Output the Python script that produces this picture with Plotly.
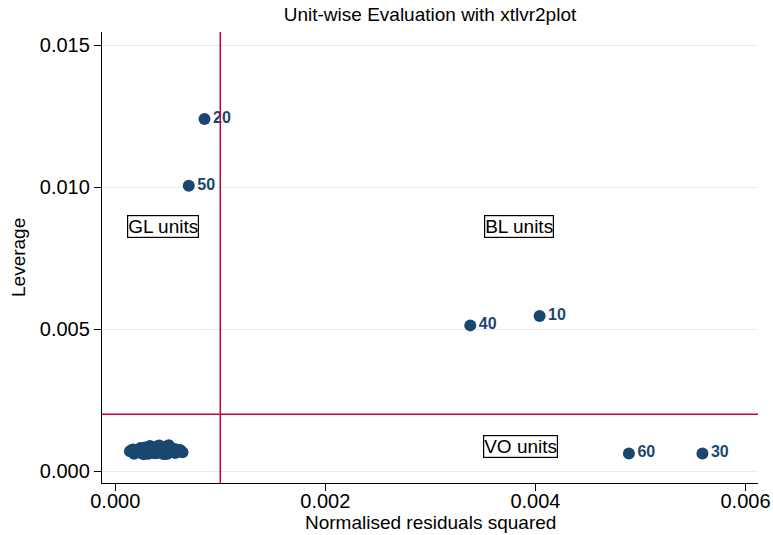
import plotly.graph_objects as go

# Unit identifiers 1..60
units = list(range(1, 61))

# Normalised residuals squared (x 1e-3), one value per unit
resid_sq_e3 = [
    0.21, 0.35, 0.28, 0.47, 0.16, 0.39, 0.52, 0.31, 0.44, 4.04,
    0.25, 0.41, 0.58, 0.19, 0.33, 0.49, 0.62, 0.27, 0.37, 0.85,
    0.14, 0.30, 0.45, 0.55, 0.23, 0.40, 0.51, 0.36, 0.60, 5.59,
    0.29, 0.43, 0.18, 0.53, 0.34, 0.64, 0.26, 0.47, 0.39, 3.38,
    0.22, 0.32, 0.56, 0.42, 0.17, 0.50, 0.38, 0.61, 0.27, 0.70,
    0.31, 0.46, 0.20, 0.57, 0.35, 0.43, 0.24, 0.54, 0.40, 4.89,
]

# Leverage (x 1e-3), one value per unit
leverage_e3 = [
    0.72, 0.66, 0.78, 0.63, 0.74, 0.85, 0.69, 0.61, 0.80, 5.46,
    0.64, 0.71, 0.76, 0.68, 0.88, 0.60, 0.73, 0.82, 0.67, 12.40,
    0.70, 0.75, 0.62, 0.79, 0.66, 0.72, 0.91, 0.64, 0.69, 0.62,
    0.83, 0.68, 0.61, 0.73, 0.70, 0.66, 0.77, 0.86, 0.63, 5.13,
    0.67, 0.62, 0.70, 0.90, 0.76, 0.65, 0.71, 0.74, 0.59, 10.05,
    0.79, 0.60, 0.65, 0.64, 0.73, 0.78, 0.81, 0.68, 0.87, 0.62,
]

# Reference cut-offs
resid_cut = 0.001
lev_cut = 0.002

# Quadrant labels: text, x, y
quad_text = ["GL units", "BL units", "VO units"]
quad_x = [0.00045, 0.00384, 0.00386]
quad_y = [0.0086, 0.0086, 0.00088]

x_ticks = [0.0, 0.002, 0.004, 0.006]
y_ticks = [0.0, 0.005, 0.010, 0.015]

x_vals = [v / 1000 for v in resid_sq_e3]
y_vals = [v / 1000 for v in leverage_e3]
# only units beyond a cut-off carry a visible label
labels = [str(u) if (x > resid_cut or y > lev_cut) else ""
          for u, x, y in zip(units, x_vals, y_vals)]

NAVY = "#1a476f"
RED = "#c10534"
FONT = "Liberation Sans, Arial, sans-serif"
W, H = 773, 535
ML, MR, MT, MB = 102, 15, 32, 52

fig = go.Figure()
fig.add_trace(go.Scatter(
    x=x_vals, y=y_vals, mode="markers+text", text=labels,
    textposition="middle right",
    textfont=dict(family=FONT, size=16, color=NAVY, weight="bold"),
    marker=dict(size=12, color=NAVY, line=dict(width=0)),
    showlegend=False, cliponaxis=False,
))

fig.add_shape(type="line", xref="x", yref="paper", x0=resid_cut, x1=resid_cut,
              y0=0, y1=1, line=dict(color=RED, width=1.5))
fig.add_shape(type="line", xref="paper", yref="y", x0=0, x1=1,
              y0=lev_cut, y1=lev_cut, line=dict(color=RED, width=1.5))

for t, qx, qy in zip(quad_text, quad_x, quad_y):
    fig.add_annotation(x=qx, y=qy, text=t, showarrow=False,
                       font=dict(family=FONT, size=19, color="black"),
                       bordercolor="black", borderwidth=1.2, borderpad=0,
                       bgcolor="white")

# axis titles placed in pixel terms below / left of the plot area
plot_h = H - MT - MB
plot_w = W - ML - MR
fig.add_annotation(text="Normalised residuals squared", showarrow=False,
                   xref="paper", yref="paper", x=0.5,
                   y=-(522 - (H - MB)) / plot_h, yanchor="middle",
                   font=dict(family=FONT, size=19, color="black"))
fig.add_annotation(text="Leverage", showarrow=False, textangle=-90,
                   xref="paper", yref="paper",
                   x=-(ML - 18) / plot_w, xanchor="center",
                   y=(H - MB - 258) / plot_h, yanchor="middle",
                   font=dict(family=FONT, size=19, color="black"))

fig.update_layout(
    width=W, height=H,
    margin=dict(l=ML, r=MR, t=MT, b=MB, autoexpand=False),
    paper_bgcolor="white", plot_bgcolor="white",
    font=dict(family=FONT, color="black"),
    title=dict(text="Unit-wise Evaluation with xtlvr2plot",
               font=dict(family=FONT, size=19, color="black"),
               x=0.5, xref="paper", xanchor="center",
               y=1 - 14 / H, yanchor="middle"),
)
# x tick marks come from the minor-tick layer so the labels sit close to the axis
fig.update_xaxes(
    range=[-0.000126, 0.006119], tickvals=x_ticks, tickformat=".3f",
    showgrid=False, zeroline=False, showline=True, linecolor="black",
    linewidth=1.3, ticks="", tickfont=dict(size=20), automargin=False,
    minor=dict(tickvals=x_ticks, ticks="outside", ticklen=7,
               tickcolor="black", showgrid=False),
)
fig.update_yaxes(
    range=[-0.00042, 0.01546], tickvals=y_ticks, tickformat=".3f",
    showgrid=True, gridcolor="#eaeaea", gridwidth=1, zeroline=False,
    showline=True, linecolor="black", linewidth=1.3,
    ticks="outside", ticklen=7, tickcolor="black",
    tickfont=dict(size=20), automargin=False,
)

fig.write_html("out.html")
